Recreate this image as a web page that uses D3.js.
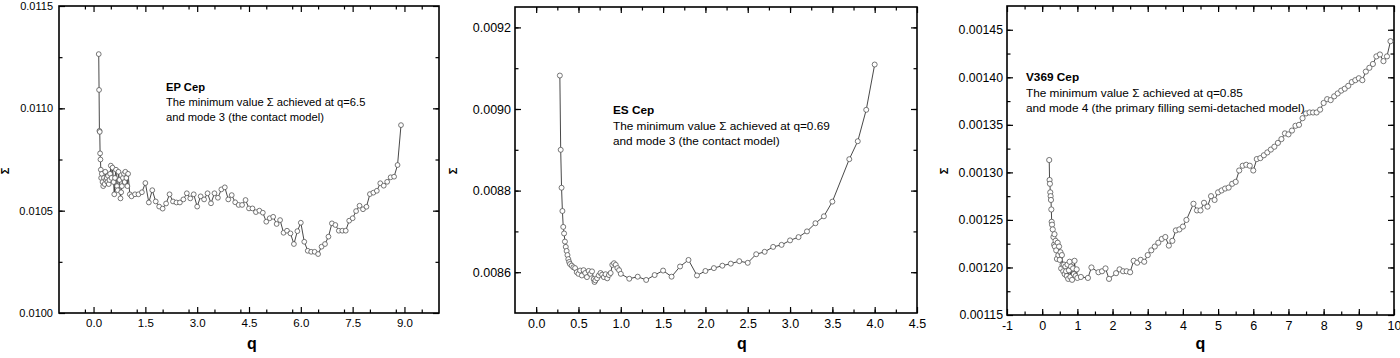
<!DOCTYPE html>
<html><head><meta charset="utf-8">
<script src="https://cdn.jsdelivr.net/npm/d3@7"></script>
<style>
html,body{margin:0;padding:0;background:#fff;}
svg{display:block;}
text{font-family:"Liberation Sans",Arial,sans-serif;fill:#000;}
</style></head>
<body><svg id="chart" width="1400" height="358"></svg>
<script>
// ---------------- DATA ----------------
// EP Cep
const epQ = [0.15,0.16,0.17,0.18,0.19,0.20,0.21,0.22,0.24,0.26,0.28,0.30,0.32,0.34,0.36,0.38,0.40,0.42,0.44,0.46,0.48,0.50,0.52,0.55,0.58,0.60,0.62,0.65,0.68,0.70,0.72,0.75,0.78,0.80,0.82,0.85,0.88,0.90,0.92,0.95,0.98,1.00,1.05,
  1.1,1.2,1.3,1.4,1.5,1.6,1.7,1.8,1.9,2.0,2.1,2.2,2.3,2.4,2.5,2.6,2.7,2.8,2.9,3.0,3.1,3.2,3.3,3.4,3.5,3.6,3.7,3.8,3.9,4.0,4.1,4.2,4.3,4.4,4.5,4.6,4.7,4.8,4.9,5.0,5.1,5.2,5.3,5.4,5.5,5.6,5.7,5.8,5.9,6.0,6.1,6.2,6.3,6.4,6.5,6.6,6.7,6.8,6.9,7.0,7.1,7.2,7.3,7.4,7.5,7.6,7.7,7.8,7.9,8.0,8.1,8.2,8.3,8.4,8.5,8.6,8.7,8.8,8.9];
const epSigma = [0.011265,0.01109,0.01089,0.010885,0.01078,0.01075,0.01070,0.01066,0.01068,0.01064,0.01062,0.01066,0.01063,0.01069,0.01065,0.01066,0.01064,0.01067,0.01063,0.01065,0.01068,0.01072,0.01066,0.01071,0.01064,0.01058,0.01066,0.01070,0.01062,0.01060,0.01069,0.01065,0.01056,0.01059,0.01062,0.01066,0.01068,0.01064,0.01069,0.01066,0.01062,0.01068,0.01058,
  0.01057,0.01058,0.01058,0.01059,0.010635,0.01054,0.01060,0.010545,0.01052,0.01051,0.010535,0.01058,0.010545,0.01054,0.01054,0.010555,0.010585,0.01056,0.01058,0.01052,0.01057,0.010555,0.010585,0.010536,0.010585,0.010563,0.010604,0.010614,0.010555,0.010576,0.010541,0.010528,0.010528,0.010552,0.010511,0.010511,0.010493,0.01050,0.01049,0.010446,0.010463,0.01047,0.010435,0.010454,0.010392,0.010402,0.010389,0.010337,0.01040,0.010441,0.010348,0.010304,0.010299,0.010299,0.010288,0.010324,0.010337,0.010373,0.010438,0.01043,0.010402,0.010402,0.010402,0.010451,0.010463,0.010498,0.010524,0.010507,0.010519,0.010581,0.010588,0.010597,0.010634,0.010622,0.010641,0.010663,0.010666,0.010723,0.010918];
const epXTicks = [0.0,1.5,3.0,4.5,6.0,7.5,9.0];
const epYTicks = [0.0100,0.0105,0.0110,0.0115];

// ES Cep
const esQ = [0.28,0.29,0.30,0.31,0.32,0.33,0.34,0.35,0.36,0.37,0.38,0.39,0.40,0.42,0.44,0.46,0.48,0.50,0.52,0.54,0.56,0.58,0.60,0.62,0.64,0.66,0.68,0.69,0.70,0.72,0.74,0.76,0.78,0.80,0.82,0.84,0.86,0.88,0.90,0.92,0.94,0.96,0.98,1.0,
  1.1,1.2,1.3,1.4,1.5,1.6,1.7,1.8,1.9,2.0,2.1,2.2,2.3,2.4,2.5,2.6,2.7,2.8,2.9,3.0,3.1,3.2,3.3,3.4,3.5,3.7,3.8,3.9,4.0];
const esSigma = [0.009082,0.008900,0.008807,0.008750,0.008711,0.008695,0.008675,0.008662,0.008652,0.008642,0.008632,0.008625,0.008620,0.008616,0.008612,0.008610,0.008600,0.008596,0.008604,0.008592,0.008605,0.008598,0.008588,0.008603,0.008596,0.008602,0.008583,0.008576,0.008580,0.008585,0.008592,0.008598,0.008594,0.008588,0.008595,0.008585,0.008593,0.008598,0.008618,0.008622,0.008618,0.008610,0.008605,0.008596,
  0.008584,0.008589,0.008581,0.008593,0.008604,0.008589,0.008614,0.008630,0.008592,0.008603,0.008610,0.008616,0.008621,0.008627,0.008623,0.008644,0.008650,0.008662,0.008667,0.008678,0.008686,0.008700,0.008720,0.008737,0.008773,0.008877,0.008921,0.008998,0.009109];
const esXTicks = [0.0,0.5,1.0,1.5,2.0,2.5,3.0,3.5,4.0,4.5];
const esYTicks = [0.0086,0.0088,0.0090,0.0092];

// V369 Cep
const vQ = [0.20,0.21,0.22,0.23,0.24,0.25,0.26,0.27,0.28,0.30,0.32,0.34,0.35,0.36,0.38,0.40,0.42,0.44,0.46,0.48,0.50,0.52,0.54,0.56,0.58,0.60,0.62,0.64,0.66,0.68,0.70,0.72,0.74,0.76,0.78,0.80,0.82,0.85,0.88,0.90,0.92,0.95,0.98,1.00,
  1.1,1.3,1.4,1.6,1.7,1.8,1.9,2.1,2.2,2.3,2.4,2.5,2.6,2.7,2.8,2.9,3.0,3.1,3.2,3.3,3.4,3.5,3.6,3.7,3.8,3.9,4.0,4.1,4.3,4.4,4.5,4.6,4.7,4.8,4.9,5.0,5.1,5.2,5.3,5.4,5.5,5.6,5.7,5.8,5.9,6.0,6.1,6.2,6.3,6.4,6.5,6.6,6.7,6.8,6.9,7.0,7.1,7.2,7.3,7.4,7.5,7.6,7.7,7.8,7.9,8.0,8.1,8.2,8.3,8.4,8.5,8.6,8.7,8.8,8.9,9.0,9.1,9.2,9.3,9.4,9.5,9.6,9.7,9.8,9.9];
const vSigma = [0.001313,0.001292,0.001288,0.001279,0.001275,0.001271,0.001261,0.001248,0.001245,0.001240,0.001232,0.001224,0.001235,0.001222,0.001228,0.001218,0.001209,0.001226,0.001213,0.001222,0.001208,0.001216,0.001199,0.001213,0.001203,0.001196,0.001203,0.001193,0.001201,0.001196,0.001191,0.001203,0.001188,0.001197,0.001206,0.001190,0.001201,0.001187,0.001199,0.001193,0.001207,0.001191,0.001198,0.001189,
  0.001190,0.001189,0.001200,0.001195,0.001196,0.001199,0.001188,0.001194,0.001198,0.001196,0.001196,0.001195,0.001207,0.001205,0.001208,0.001206,0.001213,0.001218,0.001222,0.001226,0.001230,0.001232,0.001223,0.001228,0.001239,0.001240,0.001243,0.001250,0.001267,0.001260,0.001260,0.001268,0.001264,0.001275,0.001271,0.001279,0.001281,0.001283,0.001284,0.001288,0.001290,0.001302,0.001307,0.001308,0.001307,0.001302,0.001314,0.001315,0.001318,0.001321,0.001324,0.001327,0.001331,0.001335,0.001341,0.001340,0.001344,0.001349,0.001350,0.001357,0.001362,0.001363,0.001363,0.001363,0.001366,0.001373,0.001377,0.001376,0.001380,0.001383,0.001386,0.001388,0.001391,0.001395,0.001397,0.001399,0.001397,0.001406,0.001410,0.001414,0.001422,0.001424,0.001417,0.001422,0.001438];
const vXTicks = [-1,0,1,2,3,4,5,6,7,8,9,10];
const vYTicks = [0.00115,0.00120,0.00125,0.00130,0.00135,0.00140,0.00145];

// ---------------- DRAW ----------------
const svg = d3.select("#chart");

function panel(cfg){
  const g = svg.append("g");
  const x = d3.scaleLinear().domain(cfg.xDomain).range([cfg.left, cfg.right]);
  const y = d3.scaleLinear().domain(cfg.yDomain).range([cfg.bottom, cfg.top]);
  const maj = 6, mnr = 3.5;

  function addAxis(axisFn, pos, values, size, fmt, transform, showLabels, fs){
    const a = axisFn(pos === "x" ? x : y).tickValues(values).tickSize(-size).tickPadding(pos === "x" ? cfg.xpad : cfg.ypad);
    a.tickFormat(showLabels ? fmt : () => "");
    const ag = g.append("g").attr("transform", transform).call(a);
    ag.select(".domain").remove();
    ag.selectAll(".tick line").attr("stroke","#000").attr("stroke-width",1.2);
    ag.selectAll("text").attr("font-size", fs || 11).attr("font-family","Liberation Sans, Arial, sans-serif").attr("fill","#000");
    return ag;
  }
  const xMinor = d3.range(cfg.xDomain[0], cfg.xDomain[1] + 1e-9, cfg.xMinorStep).filter(v => v > cfg.xDomain[0]+1e-9 && v < cfg.xDomain[1]-1e-9);
  const yMinor = d3.range(cfg.yDomain[0], cfg.yDomain[1] + 1e-12, cfg.yMinorStep).filter(v => v > cfg.yDomain[0]+1e-12 && v < cfg.yDomain[1]-1e-12);

  addAxis(d3.axisBottom, "x", xMinor, mnr, null, `translate(0,${cfg.bottom})`, false);
  addAxis(d3.axisBottom, "x", cfg.xTicks, maj, cfg.xFmt, `translate(0,${cfg.bottom})`, true, cfg.xfs);
  addAxis(d3.axisTop, "x", xMinor, mnr, null, `translate(0,${cfg.top})`, false);
  addAxis(d3.axisTop, "x", cfg.xTicks, maj, null, `translate(0,${cfg.top})`, false);
  addAxis(d3.axisLeft, "y", yMinor, mnr, null, `translate(${cfg.left},0)`, false);
  addAxis(d3.axisLeft, "y", cfg.yTicks, maj, cfg.yFmt, `translate(${cfg.left},0)`, true, cfg.yfs);
  addAxis(d3.axisRight, "y", yMinor, mnr, null, `translate(${cfg.right},0)`, false);
  addAxis(d3.axisRight, "y", cfg.yTicks, maj, null, `translate(${cfg.right},0)`, false);

  g.append("rect").attr("x", cfg.left).attr("y", cfg.top)
    .attr("width", cfg.right - cfg.left).attr("height", cfg.bottom - cfg.top)
    .attr("fill","none").attr("stroke","#000").attr("stroke-width",1.6);

  const pts = cfg.q.map((q,i) => ({q, s: cfg.s[i]}));
  const line = d3.line().x(d => x(d.q)).y(d => y(d.s));
  g.append("path").datum(pts).attr("d", line).attr("fill","none")
    .attr("stroke","#333").attr("stroke-width",0.9);
  g.selectAll("circle.pt").data(pts).enter().append("circle")
    .attr("cx", d => x(d.q)).attr("cy", d => y(d.s)).attr("r", cfg.r)
    .attr("fill","#fff").attr("stroke","#555").attr("stroke-width",0.8);

  g.append("text").attr("x", (cfg.left + cfg.right)/2 + cfg.qdx).attr("y", 349)
    .attr("text-anchor","middle").attr("font-size",16).attr("font-weight","bold").text("q");
  g.append("text").attr("transform", `translate(${cfg.sigmaX},171) rotate(-90)`)
    .attr("text-anchor","middle").attr("font-size",11).attr("font-weight","bold").text("Σ");

  const t = g.append("text").attr("font-size", cfg.annSize);
  t.append("tspan").attr("x", cfg.annX).attr("y", cfg.annY).attr("font-weight","bold").text(cfg.name);
  t.append("tspan").attr("x", cfg.annX).attr("y", cfg.annY + cfg.annDy).text(cfg.line1);
  t.append("tspan").attr("x", cfg.annX).attr("y", cfg.annY + 2*cfg.annDy).text(cfg.line2);
}

const plainNum = d => (d < 0 ? "-" : "") + String(Math.abs(d));

panel({q: epQ, s: epSigma, xDomain:[-1,10], yDomain:[0.0100,0.0115],
  left:59, right:439, top:6, bottom:313, xTicks: epXTicks, yTicks: epYTicks,
  xMinorStep:0.75, yMinorStep:0.00025, xFmt: d3.format(".1f"), yFmt: d3.format(".4f"),
  xfs:11.5, yfs:11, xpad:6, ypad:6, r:2.4, qdx:3, sigmaX:9,
  annX:166, annY:91, annDy:15, annSize:11.2, name:"EP Cep",
  line1:"The minimum value Σ achieved at q=6.5", line2:"and mode 3 (the contact model)"});

panel({q: esQ, s: esSigma, xDomain:[-0.25,4.5], yDomain:[0.0085,0.00925],
  left:515, right:917, top:7, bottom:313, xTicks: esXTicks, yTicks: esYTicks,
  xMinorStep:0.25, yMinorStep:0.0001, xFmt: d3.format(".1f"), yFmt: d3.format(".4f"),
  xfs:12.5, yfs:12.5, xpad:6, ypad:4, r:2.5, qdx:26, sigmaX:457,
  annX:613, annY:114, annDy:15.5, annSize:11.8, name:"ES Cep",
  line1:"The minimum value Σ achieved at q=0.69", line2:"and mode 3 (the contact model)"});

panel({q: vQ, s: vSigma, xDomain:[-1,10], yDomain:[0.00115,0.001475],
  left:1007, right:1394, top:6, bottom:315, xTicks: vXTicks, yTicks: vYTicks,
  xMinorStep:0.5, yMinorStep:0.000025, xFmt: plainNum, yFmt: d3.format(".5f"),
  xfs:12.5, yfs:12.3, xpad:6, ypad:4, r:2.6, qdx:0, sigmaX:948,
  annX:1026, annY:81, annDy:15.5, annSize:11.8, name:"V369 Cep",
  line1:"The minimum value Σ achieved at q=0.85", line2:"and mode 4 (the primary filling semi-detached model)"});
</script></body></html>
